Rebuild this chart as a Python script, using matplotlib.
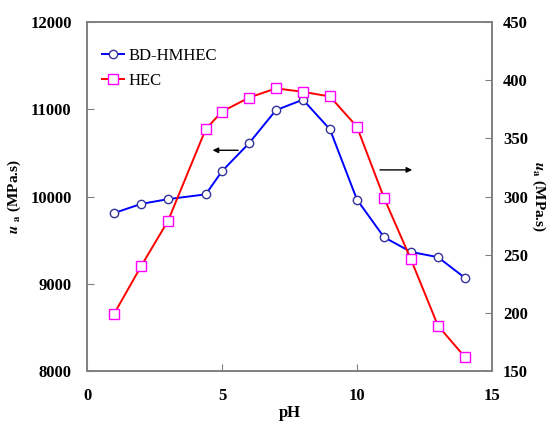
import matplotlib
matplotlib.use('Agg')
import matplotlib.pyplot as plt

# data
ph_values = [1, 2, 3, 4.4, 5, 6, 7, 8, 9, 10, 11, 12, 13, 14]
bd_hmhec = [9810, 9915, 9970, 10025, 10290, 10610, 10990, 11110,
            10770, 9965, 9535, 9365, 9305, 9068]
hec = [199, 240, 279, 358, 373, 385, 393, 390, 386, 360, 299, 246,
       189, 162]

plt.rcParams['font.family'] = ['Liberation Serif', 'DejaVu Serif']
plt.rcParams['mathtext.fontset'] = 'stix'

fig = plt.figure(figsize=(5.49, 4.24), dpi=100)
ax = fig.add_axes([0.1585, 0.125, 0.7375, 0.823])
ax2 = ax.twinx()

ax.plot(
    ph_values,
    bd_hmhec,
    color='#0000ff',
    lw=1.4,
    marker='o',
    ms=6,
    mfc='white',
    mec='#333399',
    mew=1.0,
    label='BD-HMHEC',
    zorder=3)
ax2.plot(
    ph_values,
    hec,
    color='#ff0000',
    lw=1.4,
    marker='s',
    ms=6.5,
    mfc='white',
    mec='#ff00ff',
    mew=1.0,
    label='HEC',
    zorder=3)

ax.set_xlim(0, 15)
ax.set_ylim(8000, 12000)
ax2.set_ylim(150, 450)
ax.set_xticks([0, 5, 10, 15])
ax.set_yticks([8000, 9000, 10000, 11000, 12000])
ax2.set_yticks([150, 200, 250, 300, 350, 400, 450])

for a in (ax, ax2):
    for s in a.spines.values():
        s.set_color('#808080')
        s.set_linewidth(1.2)
ax.tick_params(axis='x', direction='in', length=5, color='#808080',
               pad=12, labelsize=12)
ax.tick_params(axis='y', direction='in', length=5, color='#808080',
               pad=11, labelsize=12)
ax2.tick_params(axis='y', direction='in', length=5, color='#808080',
                pad=8, labelsize=12)
for lab in ax.get_xticklabels() + ax.get_yticklabels() + ax2.get_yticklabels():
    lab.set_fontweight('bold')

ax.set_xlabel('pH', fontsize=12, fontweight='bold', labelpad=1)
ax.set_ylabel(r'$\boldsymbol{u}$ $_{\mathbf{a}}$ (MPa.s)', fontsize=11,
              fontweight='bold', labelpad=5)
ax2.set_ylabel(r'$\boldsymbol{u}_{\mathbf{a}}$ (MPa.s)', fontsize=11,
               fontweight='bold', rotation=270, labelpad=14)

# arrows pointing to the matching axis
ax.annotate('', xy=(4.55, 10530), xytext=(5.7, 10530),
            arrowprops=dict(arrowstyle='-|>', color='black', lw=1.0,
                            mutation_scale=8))
ax.annotate('', xy=(12.15, 10305), xytext=(10.75, 10305),
            arrowprops=dict(arrowstyle='-|>', color='black', lw=1.0,
                            mutation_scale=8))

h1, l1 = ax.get_legend_handles_labels()
h2, l2 = ax2.get_legend_handles_labels()
ax2.legend(h1 + h2, l1 + l2, loc='upper left', frameon=False,
           fontsize=12, handlelength=1.3, handletextpad=0.3,
           labelspacing=0.55, bbox_to_anchor=(0.0, 0.97))

fig.savefig('out.png', dpi=100)
